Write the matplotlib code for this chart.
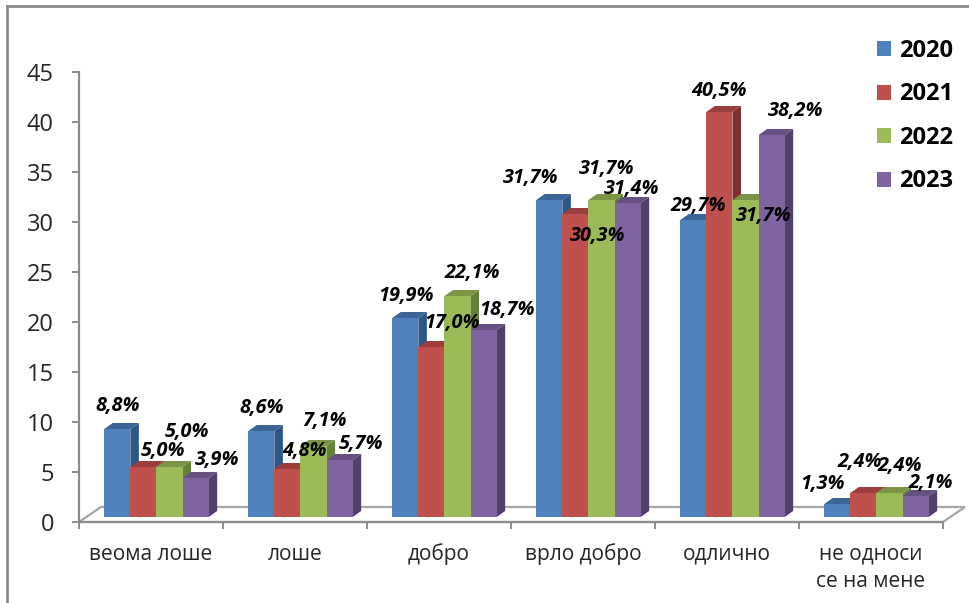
import matplotlib
matplotlib.use("Agg")
import matplotlib.pyplot as plt
from matplotlib.lines import Line2D
from matplotlib.patches import Polygon

categories = ["веома лоше", "лоше", "добро", "врло добро", "одлично", "не односи\nсе на мене"]
years = ["2020", "2021", "2022", "2023"]
v2020 = [8.8, 8.6, 19.9, 31.7, 29.7, 1.3]
v2021 = [5.0, 4.8, 17.0, 30.3, 40.5, 2.4]
v2022 = [5.0, 7.1, 22.1, 31.7, 31.7, 2.4]
v2023 = [3.9, 5.7, 18.7, 31.4, 38.2, 2.1]
series = [v2020, v2021, v2022, v2023]
yticks = [0, 5, 10, 15, 20, 25, 30, 35, 40, 45]

front = ["#4F81BD", "#C0504D", "#9BBB59", "#8064A2"]
top = ["#3B6497", "#9C3E3C", "#7B9545", "#66507F"]
side = ["#2F5583", "#7E2F2D", "#64803A", "#533F6F"]

# label offsets in pixels from the top centre of each bar (series, category)
offsets = [
    [(0, 23), (0.6, 23), (0.6, 22), (-18.4, 22), (4.6, 14), (-14.4, 20)],
    [(19.5, 16), (17.5, 18), (20.5, 24), (22.5, -22), (-0.5, 21), (-3.5, 31)],
    [(17.4, 35), (11.4, 25), (14.4, 23), (5.4, 31), (18.4, -16), (10.4, 27)],
    [(21, 18), (21.3, 16), (23.3, 20), (4.3, 14), (24.3, 24), (15.3, 13)],
]

W, H = 970, 603
DPI = 100
FONT = "Open Sans"
GREY = "#8C8C8C"
plt.rcParams["font.family"] = [FONT, "DejaVu Sans"]

fig = plt.figure(figsize=(W / DPI, H / DPI), dpi=DPI, facecolor="white")
ax = fig.add_axes([79 / W, 1 - 522 / H, (943 - 79) / W, 450 / H])
ax.set_xlim(-0.5, 5.5)
ax.set_ylim(0, 45)
ax.patch.set_visible(False)

px_x = 864 / 6          # pixels per category
px_y = 10.0             # pixels per value unit
bar_w = 26.1 / px_x
base = 5 / px_y
depth_x = 8.5 / px_x
depth_y = 6 / px_y
group_shift = 0.038

# floor
floor_dx = 22 / px_x
floor_dy = 15 / px_y
ax.add_patch(Polygon([(-0.5, 0), (-0.5 + floor_dx, floor_dy), (5.5 + floor_dx, floor_dy), (5.5, 0)],
                     closed=True, fill=False, edgecolor="#A6A6A6", lw=1.6, clip_on=False, zorder=1))

handles = []
for i, vals in enumerate(series):
    z = 3 + i
    xs = [c + group_shift + (i - 1.5) * bar_w for c in range(len(vals))]
    bars = ax.bar(xs, vals, width=bar_w, bottom=base, color=front[i], linewidth=0, zorder=z + 0.5)
    handles.append(bars)
    for x, v, (ox, oy) in zip(xs, vals, offsets[i]):
        l, r, t = x - bar_w / 2, x + bar_w / 2, base + v
        ax.add_patch(Polygon([(r, base), (r + depth_x, base + depth_y), (r + depth_x, t + depth_y), (r, t)],
                             closed=True, facecolor=side[i], edgecolor="none", zorder=z, clip_on=False))
        ax.add_patch(Polygon([(l, t), (l + depth_x, t + depth_y), (r + depth_x, t + depth_y), (r, t)],
                             closed=True, facecolor=top[i], edgecolor="none", zorder=z, clip_on=False))
        ax.annotate(f"{v:.1f}%".replace(".", ","), xy=(x, t), xytext=(ox * 72 / DPI, oy * 72 / DPI),
                    textcoords="offset points", ha="center", va="center", fontsize=14.3,
                    fontweight="bold", fontstyle="italic", color="black", zorder=20, annotation_clip=False)

for s in ["top", "right"]:
    ax.spines[s].set_visible(False)
for s in ["left", "bottom"]:
    ax.spines[s].set_color(GREY)
    ax.spines[s].set_linewidth(1.6)
    ax.spines[s].set_zorder(2)

ax.set_yticks(yticks)
ax.set_yticklabels([str(t) for t in yticks], fontsize=17, color="#262626")
ax.tick_params(axis="y", length=5, width=1.4, color=GREY, pad=13)
ax.set_xticks([k - 0.5 for k in range(7)])
ax.set_xticklabels([])
ax.tick_params(axis="x", which="major", length=5, width=1.4, color=GREY)
ax.set_xticks(range(6), minor=True)
ax.set_xticklabels(categories, minor=True, fontsize=15, color="#262626", linespacing=1.4)
ax.tick_params(axis="x", which="minor", length=0, pad=15.5)

leg = ax.legend(handles, years, loc="upper left", bbox_to_anchor=(877 / W, 1 - 39 / H),
                bbox_transform=fig.transFigure, frameon=False, prop={"family": FONT, "weight": "bold", "size": 17},
                handlelength=0.6, handleheight=0.6, handletextpad=0.33, labelspacing=0.825,
                borderpad=0, borderaxespad=0)

# outer frame, partly visible in the reference
fig.add_artist(Line2D([7 / W, 7 / W], [0, 1 - 6 / H], color=GREY, lw=2))
fig.add_artist(Line2D([7 / W, 1], [1 - 6 / H, 1 - 6 / H], color=GREY, lw=2))

fig.savefig("out.png", dpi=DPI, facecolor="white")
